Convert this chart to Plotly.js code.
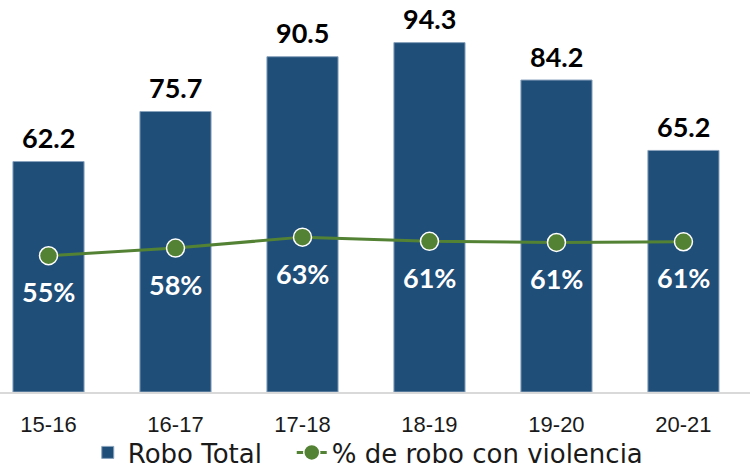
<!DOCTYPE html>
<html>
<head>
<meta charset="utf-8">
<script src="https://cdn.plot.ly/plotly-3.0.1.min.js"></script>
<style>html,body{margin:0;padding:0;background:#fff;}#chart{width:750px;height:476px;}</style>
</head>
<body>
<div id="chart"></div>
<script>
const categories = ['15-16','16-17','17-18','18-19','19-20','20-21'];
const roboTotal = [62.2, 75.7, 90.5, 94.3, 84.2, 65.2];
const pctViolencia = [0.55, 0.583, 0.63, 0.612, 0.607, 0.61];
const seriesNames = ['Robo Total', '% de robo con violencia'];

const BOLD = 'Lato, "Liberation Sans", sans-serif';
const REG = '"DejaVu Sans", sans-serif';
const PAD = '\u00a0\u00a0\u00a0';

const bars = {
  type: 'bar', x: categories, y: roboTotal, name: seriesNames[0] + PAD,
  width: 0.56,
  marker: {color: '#1F4E79', line: {color: '#8aa3bd', width: 1}},
  hoverinfo: 'none'
};
const line = {
  type: 'scatter', mode: 'lines+markers', x: categories, y: pctViolencia, name: seriesNames[1],
  yaxis: 'y2',
  line: {color: '#548235', width: 3},
  marker: {color: '#548235', size: 18, line: {color: '#ffffff', width: 1.5}},
  hoverinfo: 'none'
};

const annotations = [];
categories.forEach((c, i) => {
  annotations.push({
    x: c, y: roboTotal[i], xref: 'x', yref: 'y', text: roboTotal[i].toFixed(1),
    showarrow: false, yanchor: 'middle', yshift: 24,
    font: {family: BOLD, size: 27, color: '#000000', weight: 'bold'}
  });
  annotations.push({
    x: c, y: pctViolencia[i], xref: 'x', yref: 'y2', text: Math.round(pctViolencia[i]*100) + '%',
    showarrow: false, yanchor: 'middle', yshift: -36,
    font: {family: BOLD, size: 27, color: '#ffffff', weight: 'bold'}
  });
});

const layout = {
  width: 750, height: 476,
  margin: {l: 0, r: 0, t: 0, b: 81},
  paper_bgcolor: '#ffffff', plot_bgcolor: '#ffffff',
  showlegend: true,
  legend: {orientation: 'h', x: 0.117, xanchor: 'left', y: -0.155, yanchor: 'middle',
           bgcolor: 'rgba(0,0,0,0)',
           font: {family: REG, size: 26, color: '#1a1a1a'}, traceorder: 'normal'},
  xaxis: {
    type: 'category', range: [-0.382, 5.524],
    showgrid: false, zeroline: false,
    showline: true, linecolor: '#d9d9d9', linewidth: 2,
    ticks: '', ticklabelstandoff: 12,
    tickfont: {family: '"Liberation Sans", sans-serif', size: 22, color: '#1a1a1a'}
  },
  yaxis: {range: [0, 105.8], visible: false, showgrid: false, zeroline: false, fixedrange: true},
  yaxis2: {range: [-0.0368, 1.651], overlaying: 'y', side: 'right', visible: false, showgrid: false, zeroline: false},
  annotations: annotations
};

Plotly.newPlot('chart', [bars, line], layout, {displayModeBar: false, staticPlot: true});
</script>
</body>
</html>
